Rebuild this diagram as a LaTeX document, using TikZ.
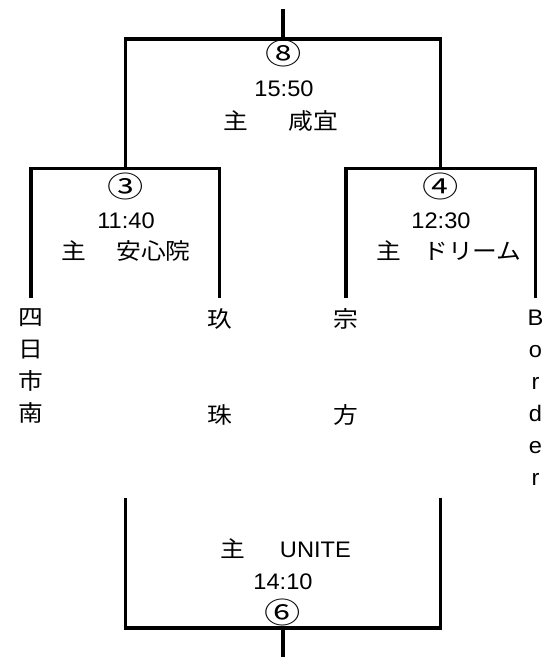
\documentclass[tikz,border=0pt]{standalone}
\usepackage{fontspec}
\setmainfont[FakeStretch=1.05]{Liberation Sans}
\newfontfamily\cjk[FakeStretch=1.1]{Noto Sans CJK JP}
\newfontfamily\cjknum[FakeStretch=1.25]{Noto Sans CJK JP}
\usetikzlibrary{positioning}
\begin{document}
\begin{tikzpicture}[x=1pt,y=-1pt]
\begin{scope}

\tikzstyle{team} = [inner sep=0pt,align=center,font=\cjk\fontsize{22.5}{32}\selectfont];
\tikzstyle{teamlat} = [inner sep=0pt,align=center,font=\fontsize{22.5}{32}\selectfont];
\tikzstyle{game} = [inner sep=0pt,text height=17pt,text depth=0pt,font=\fontsize{22.5}{25}\selectfont];
\tikzstyle{num} = [inner sep=0pt,text height=21.5pt,text depth=0pt,font=\cjknum\fontsize{29}{29}\selectfont];
\tikzstyle{line1} = [line width=3.5pt];

\useasboundingbox (0,0) rectangle (555,657);

\node [team,anchor=north] (s1) at (31,308) {四\\日\\市\\南};
\node [team,anchor=north] (s2) at (219.5,308) {玖};
\node [team] (s21) at ([yshift=-96.5pt]s2.center) {珠};
\node [team,anchor=north] (s3) at (346,308) {宗};
\node [team] (s31) at ([yshift=-96.5pt]s3.center) {方};
\node [teamlat,anchor=north] (s4) at (535.5,310) {B\\o\\r\\d\\e\\r};

\node [num] (m3) at (126,187) {③};
\node [game] (m31) at ([yshift=-33pt]m3.center) {11:40};
\node [game,anchor=west] (m32) at ([xshift=-65pt,yshift=-31pt]m31.center) {{\cjk 主}\hspace{30.5pt}{\cjk 安心院}};
\node [num] (m4) at (441,187) {④};
\node [game] (m41) at ([yshift=-33pt]m4.center) {12:30};
\node [game,anchor=west] (m42) at ([xshift=-65pt,yshift=-31pt]m41.center) {{\cjk 主}\hspace{22.5pt}{\cjk ドリーム}};
\node [num] (m8) at (284,54) {⑧};
\node [game] (m81) at ([yshift=-34pt]m8.center) {15:50};
\node [game,anchor=west] (m82) at ([xshift=-61pt,yshift=-33pt]m81.center) {{\cjk 主}\hspace{40.4pt}{\cjk 咸宜}};
\node [num] (m6) at (283,612.5) {⑥};
\node [game] (m61) at ([yshift=31.5pt]m6.center) {14:10};
\node [game,anchor=west] (m62) at ([xshift=-63pt,yshift=32pt]m61.center) {{\cjk 主}\hspace{35pt}UNITE};

\coordinate (p3) at (125.5,168.5);
\coordinate (p4) at (440.5,168.5);
\coordinate (p8) at (283,39);
\coordinate (p8top) at (283,9);
\coordinate (p6) at (283,628);
\coordinate (p6bot) at (283,657);
\coordinate (q1) at (125.5,498);
\coordinate (q2) at (440.5,498);

\draw [line1] ([yshift=10pt]s1.north) |- (p3) -| ([yshift=10pt]s2.north);
\draw [line1] ([yshift=10pt]s3.north) |- (p4) -| ([yshift=12pt]s4.north);
\draw [line1] (p3) |- (p8) -| (p4);
\draw [line1] (p8) -- (p8top);
\draw [line1] (q1) |- (p6) -| (q2);
\draw [line1] (p6) -- (p6bot);

\end{scope}
\end{tikzpicture}
\end{document}
